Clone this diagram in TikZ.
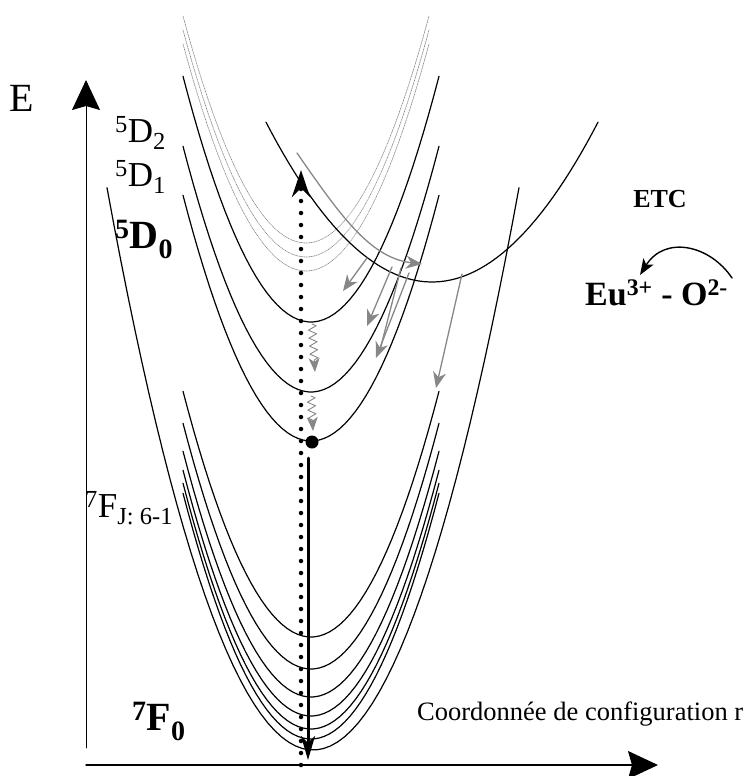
\documentclass[tikz,border=0pt]{standalone}
\usepackage{fontspec}
\setmainfont{Liberation Serif}
\usetikzlibrary{arrows.meta,decorations.pathmorphing}
\begin{document}
\begin{tikzpicture}[x=1pt, y=-1pt, line cap=round, line join=round]
  \definecolor{relaxgray}{RGB}{135,135,135}
  \tikzset{
    level/.style={line width=1.2pt},
    ghost/.style={relaxgray, densely dotted, line width=0.7pt},
    relax/.style={relaxgray, line width=1.3pt, -{Stealth[length=16pt,width=13pt,inset=5pt]}},
    wiggle/.style={relaxgray, line width=0.9pt, decorate,
      decoration={zigzag, amplitude=4pt, segment length=8pt, post length=10pt},
      -{Stealth[length=14pt,width=11pt,inset=4pt]}},
    axis/.style={-{Stealth[length=30pt,width=28pt,inset=4pt]}},
    lab/.style={inner sep=0pt, anchor=base west, font=\fontsize{35}{35}\selectfont},
    blab/.style={lab, font=\fontsize{40}{40}\selectfont\bfseries}
  }
  \useasboundingbox (0,0) rectangle (748,776);
  % axes
  \draw[axis, line width=0.9pt] (86,748) -- (86,80);
  \draw[axis, line width=1.4pt] (86,765) -- (658,765);
  \node[font=\fontsize{40}{40}\selectfont] (elab) at (22,98) {E};
  \node[inner sep=0pt, anchor=base west, font=\fontsize{26.5}{26.5}\selectfont] (coord) at (417,720) {Coordonnée de configuration r};
  % ghost levels (dotted)
  \foreach \m in {243,257,271}
    \draw[ghost] plot[domain=-123:123, samples=50] ({306+\x},{\m-1.5*(\x/10)^2});
  % 5D levels
  \foreach \m in {322,392,441}
    \draw[level] plot[domain=-128:128, samples=50] ({311+\x},{\m-1.5*(\x/10)^2});
  % 7F_J levels
  \foreach \m in {637,669,697,716,729,739}
    \draw[level] plot[domain=-128:128, samples=50] ({311+\x},{\m-1.5*(\x/10)^2});
  % 7F0
  \draw[level] plot[domain=-206:206, samples=60] ({313+\x},{750-1.325*(\x/10)^2});
  % charge transfer state
  \draw[level] plot[domain=-166:166, samples=60] ({432+\x},{282-0.58*(\x/10)^2});
  % excitation and emission
  \draw[line width=4.5pt, dash pattern=on 0pt off 12pt,
    -{Stealth[length=27pt,width=18pt,inset=9pt]}] (301,765) -- (301,170);
  \draw[line width=3pt, -{Stealth[length=24pt,width=14pt,inset=7pt]}] (308,458) -- (308,760);
  \fill (312,442) circle (6.5);
  % relaxation
  \draw[relax] (297,153) .. controls (340,215) and (370,258) .. (422,264);
  \draw[relax] (367,258) -- (343,291);
  \draw[relax] (392,267) -- (367,326);
  \draw[relaxgray, line width=1.3pt] (401,268) -- (380,350);
  \draw[relax] (409,273) -- (376,358);
  \draw[relax] (462,274) -- (436,388);
  \draw[wiggle] (312,324) -- (315,372);
  \draw[wiggle] (311,396) -- (313,431);
  % labels
  \node[lab] (dtwo) at (115,142) {\textsuperscript{5}D\textsubscript{2}};
  \node[lab] (done) at (115,186) {\textsuperscript{5}D\textsubscript{1}};
  \node[blab] (dzero) at (115,248) {\textsuperscript{5}D\textsubscript{0}};
  \node[lab] (fj) at (85,517) {\textsuperscript{7}F\textsubscript{J: 6-1}};
  \node[blab] (fzero) at (132,730) {\textsuperscript{7}F\textsubscript{0}};
  \node[inner sep=0pt, anchor=base, font=\fontsize{26}{26}\selectfont\bfseries] (etc) at (660,207) {ETC};
  \node[inner sep=0pt, anchor=base west, font=\fontsize{34}{34}\selectfont\bfseries] (euo) at (585,305) {Eu\textsuperscript{3+} - O\textsuperscript{2-}};
  \draw[line width=1.4pt, -{Stealth[length=16pt,width=12pt,inset=4pt]}]
    (732,278) .. controls (710,245) and (665,235) .. (640,275);
\end{tikzpicture}
\end{document}
